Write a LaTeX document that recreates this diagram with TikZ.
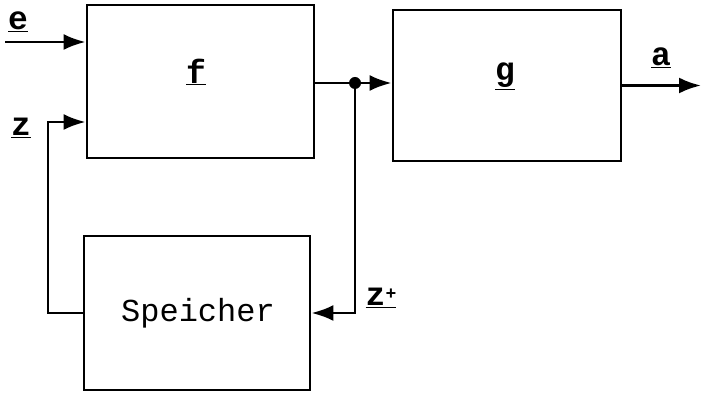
\documentclass[tikz,border=0pt]{standalone}
\usepackage{fontspec}
\setmonofont{Liberation Mono}
\usetikzlibrary{arrows.meta}
\begin{document}
\begin{tikzpicture}[x=1pt,y=-1pt,
  blk/.style={draw, line width=2.8pt, inner sep=0pt},
  sig/.style={draw, line width=2.8pt, -{Latex[length=22pt,width=16pt]}},
  wire/.style={draw, line width=2.8pt},
  lbl/.style={font=\ttfamily\bfseries\fontsize{33}{33}\selectfont, inner sep=0pt},
  txt/.style={font=\ttfamily\fontsize{32}{32}\selectfont, inner sep=0pt}]
\useasboundingbox (0,0) rectangle (702,395);

% function blocks and memory
\node[blk, minimum width=227pt, minimum height=153pt] (f) at (200.5,81.5) {};
\node[blk, minimum width=228pt, minimum height=151pt] (g) at (507,85.5) {};
\node[blk, minimum width=226pt, minimum height=154pt] (sp) at (197,313) {};

\node[lbl] (lf) at (196,72) {\underline{f}};
\node[lbl] (lg) at (505,76) {\underline{g}};
\node[txt] (ls) at (198,313) {Speicher};

% signal labels
\node[lbl] (le) at (18,22) {\underline{e}};
\node[lbl] (lz) at (21,128) {\underline{z}};
\node[lbl] (lzp) at (381,298) {\underline{z\raisebox{0.35ex}{\fontsize{18}{18}\selectfont+}}};
\node[lbl] (la) at (661,58) {\underline{a}};

% connection points
\coordinate (ein) at (5,42);
\coordinate (zc) at (48,122);
\coordinate (j) at (355,83);
\coordinate (aout) at (701,85.5);

% input e
\draw[sig] (ein) -- (ein -| f.west);
% state feedback from memory into f
\draw[sig] (sp.west) -| (zc) -- (zc -| f.west);
% output of f to g, branching to the memory
\draw[wire] (j -| f.east) -- (j);
\draw[sig] (j) -- (j -| g.west);
\draw[sig] (j) |- (sp.east);
\fill (j) circle (6pt);
% output a
\draw[sig] (g.east) -- (g.east -| aout);
\end{tikzpicture}
\end{document}
